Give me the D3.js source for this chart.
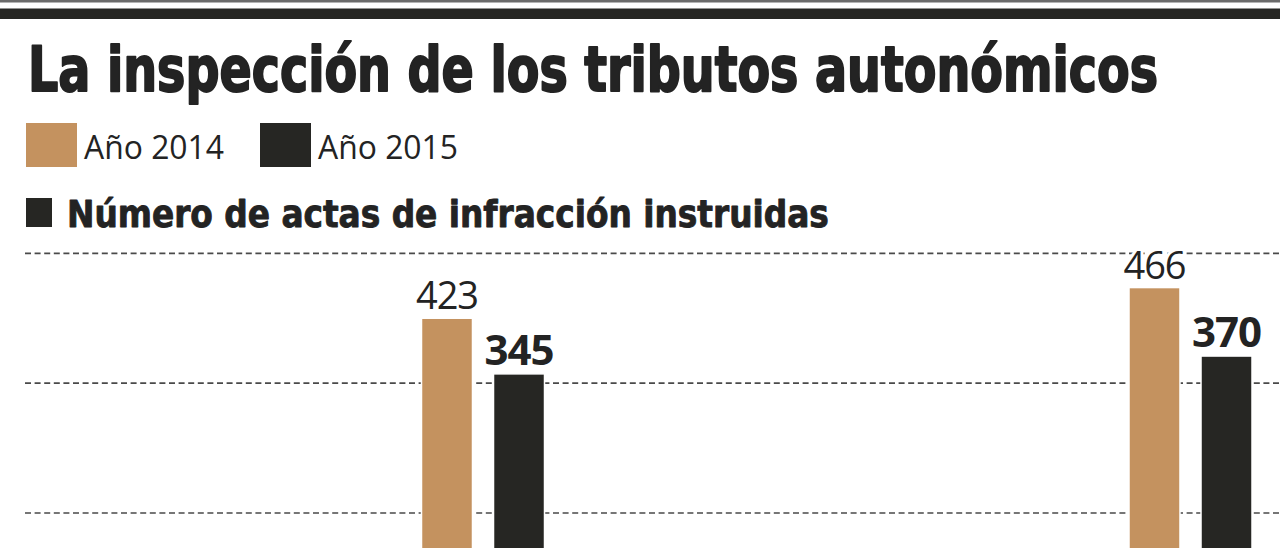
<!DOCTYPE html>
<html><head><meta charset="utf-8">
<script src="https://cdn.jsdelivr.net/npm/d3@7"></script>
<style>
html,body{margin:0;padding:0;background:#fff;overflow:hidden;}
</style></head>
<body>
<script>
const categories = ["Grupo A", "Grupo B"];
const seriesNames = ["Año 2014", "Año 2015"];
const values2014 = [423, 466];
const values2015 = [345, 370];
const gridValues = [150, 332, 514];
const titleText = "La inspección de los tributos autonómicos";
const subtitleText = "Número de actas de infracción instruidas";

const W = 1280, H = 548;
const colors = {"Año 2014": "#c4925f", "Año 2015": "#262623"};
const svg = d3.select("body").append("svg").attr("width", W).attr("height", H);

// Fit a text to a target width by choosing the font-size, then stretch vertically
function fitStretch(sel, x, baseline, size, width){
  sel.attr("x",0).attr("y",0).attr("font-size", size);
  const L = sel.node().getComputedTextLength();
  const s2 = size * width / L;
  sel.attr("font-size", s2);
  const L2 = sel.node().getComputedTextLength();
  const sx = width / L2;
  sel.attr("transform", `translate(${x},${baseline}) scale(${sx},${size/s2})`);
}

// top rules
svg.append("rect").attr("x",0).attr("y",0).attr("width",W).attr("height",2.5).attr("fill","#6b6b6b");
svg.append("rect").attr("x",0).attr("y",8.5).attr("width",W).attr("height",10.5).attr("fill","#262623");

// title
const title = svg.append("text")
  .attr("font-family","'DejaVu Sans Condensed','DejaVu Sans',sans-serif")
  .attr("font-stretch","condensed")
  .attr("font-weight","bold").attr("fill","#232323")
  .attr("stroke","#232323").attr("stroke-width",1.6).attr("stroke-linejoin","round")
  .text(titleText);
fitStretch(title, 28, 91, 62, 1130);

// legend
const lg = svg.append("g");
const legendX = [26, 260];
seriesNames.forEach((s,i)=>{
  lg.append("rect").attr("x",legendX[i]).attr("y",123).attr("width",51).attr("height",44).attr("fill",colors[s]);
  const t = lg.append("text")
    .attr("font-family","'Open Sans',sans-serif").attr("fill","#232323").text(s);
  fitStretch(t, legendX[i]+58, 159, 33, 140);
});

// subtitle
svg.append("rect").attr("x",26).attr("y",198).attr("width",26).attr("height",29).attr("fill","#262623");
const sub = svg.append("text")
  .attr("font-family","'DejaVu Sans Condensed','DejaVu Sans',sans-serif")
  .attr("font-stretch","condensed")
  .attr("font-weight","bold").attr("fill","#232323")
  .attr("stroke","#232323").attr("stroke-width",0.8).attr("stroke-linejoin","round")
  .text(subtitleText);
fitStretch(sub, 67, 227, 38, 762);

// scales
const y = d3.scaleLinear().domain([0, 600]).range([620, 620 - 600*0.7134]);
const x0 = d3.scalePoint().domain(categories).range([483, 1190.5]).padding(0);
const x1 = d3.scaleBand().domain(seriesNames).range([-61.5, 61.5]).paddingInner(0.292).paddingOuter(0);

// gridlines
svg.append("g").selectAll("line").data(gridValues).join("line")
  .attr("x1",25).attr("x2",W)
  .attr("y1",d=>y(d)).attr("y2",d=>y(d))
  .attr("stroke","#4a4a4a").attr("stroke-width",1.7)
  .attr("stroke-dasharray","6,3.6");

const data = categories.map((c,i)=>({cat:c, vals:[
  {s:seriesNames[0], v:values2014[i]},
  {s:seriesNames[1], v:values2015[i]}
]}));

const groups = svg.append("g").selectAll("g").data(data).join("g")
  .attr("transform", d=>`translate(${x0(d.cat)},0)`);

groups.selectAll("rect").data(d=>d.vals).join("rect")
  .attr("x", d=>x1(d.s)).attr("width", x1.bandwidth())
  .attr("y", d=>y(d.v)).attr("height", d=>y(0)-y(d.v))
  .attr("fill", d=>colors[d.s])
  .attr("stroke","#fff").attr("stroke-width",1.5);

groups.selectAll("text.val").data(d=>d.vals).join("text").attr("class","val")
  .attr("x", d=>x1(d.s)+x1.bandwidth()/2)
  .attr("y", d=>y(d.v)-9)
  .attr("text-anchor","middle")
  .attr("font-family","'Open Sans',sans-serif")
  .attr("font-weight", (d,i)=> i===1 ? "bold" : "normal")
  .attr("font-size", (d,i)=> i===1 ? 42 : 38)
  .attr("letter-spacing", -1)
  .attr("fill","#232323")
  .attr("stroke","#fff").attr("stroke-width",6).attr("paint-order","stroke")
  .text(d=>d.v);
</script>
</body></html>
